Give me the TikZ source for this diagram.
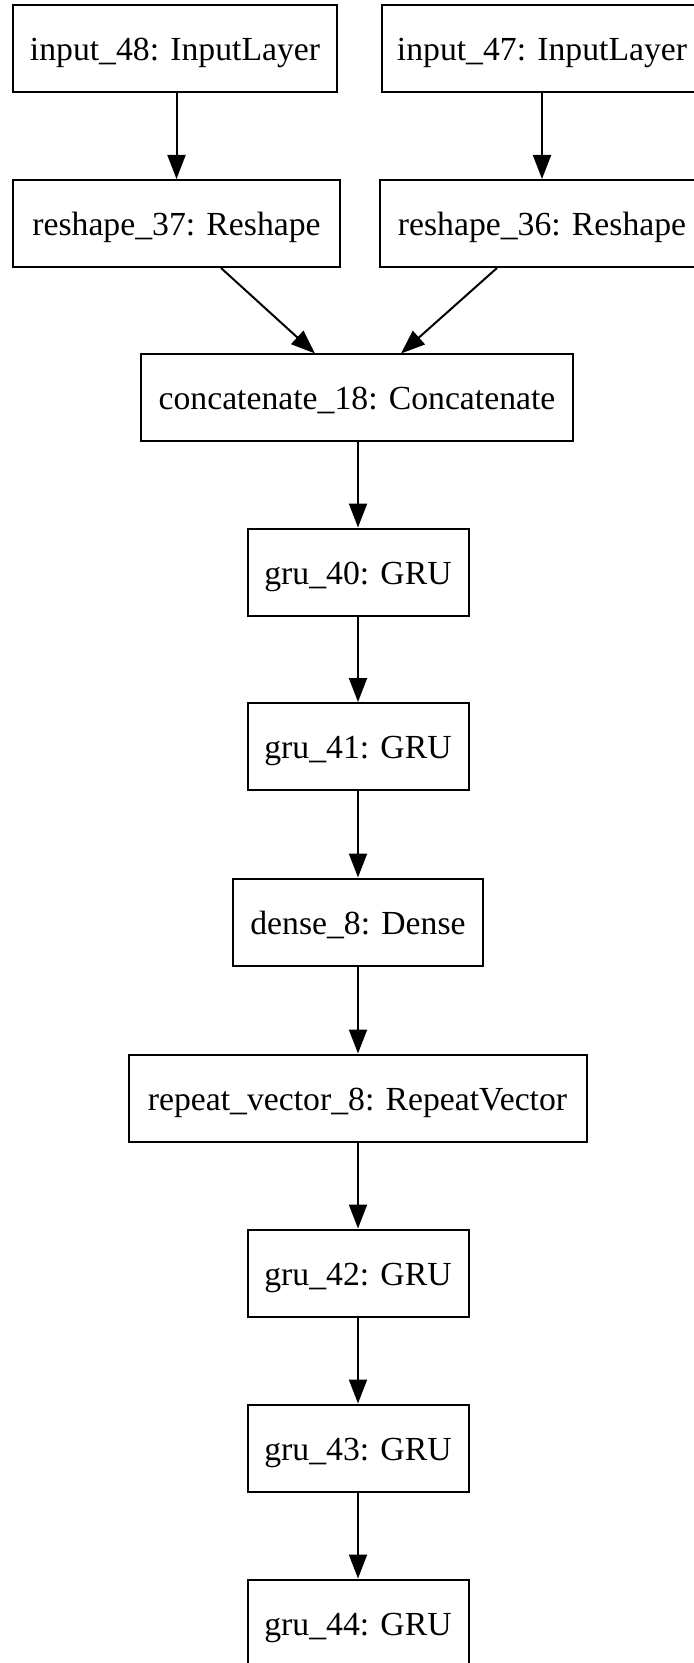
\documentclass[tikz,border=0pt]{standalone}
\usepackage{fontspec}
\setmainfont{Liberation Serif}
\usetikzlibrary{arrows.meta,calc}

\begin{document}
\begin{tikzpicture}[
  x=0.5pt, y=-0.5pt,
  layer/.style={draw=black, line width=1pt, rectangle, inner sep=0pt,
    minimum height=43.5pt, text height=12pt, text depth=0pt,
    font=\fontsize{16.85}{20}\selectfont},
  flow/.style={draw=black, line width=1pt,
    -{Triangle[length=12pt, width=9pt]}}
]
\useasboundingbox (0,0) rectangle (694,1663);
\clip (0,0) rectangle (694,1663);
\fill[white] (0,0) rectangle (694,1663);

% input branches
\node[layer, minimum width=162pt] (in48) at (175,49) {input\_48: InputLayer};
\node[layer, minimum width=160pt] (in47) at (542,49) {input\_47: InputLayer};
\node[layer, minimum width=163.5pt] (re37) at (176.5,223.5) {reshape\_37: Reshape};
\node[layer, minimum width=162pt] (re36) at (542,223.5) {reshape\_36: Reshape};

% main stack
\node[layer, minimum width=216pt] (cat) at (357,398) {concatenate\_18: Concatenate};
\node[layer, minimum width=110.5pt] (g40) at (358,572) {gru\_40: GRU};
\node[layer, minimum width=110.5pt] (g41) at (358,746.5) {gru\_41: GRU};
\node[layer, minimum width=125pt] (d8) at (358,922) {dense\_8: Dense};
\node[layer, minimum width=229pt] (rv8) at (357.5,1098) {repeat\_vector\_8: RepeatVector};
\node[layer, minimum width=110.5pt] (g42) at (358,1273) {gru\_42: GRU};
\node[layer, minimum width=110.5pt] (g43) at (358,1448) {gru\_43: GRU};
\node[layer, minimum width=110.5pt] (g44) at (358,1623) {gru\_44: GRU};

% connectors
\draw[flow] (in48.south -| re37.north) -- (re37.north);
\draw[flow] (in47.south -| re36.north) -- (re36.north);
\draw[flow] ($(re37.south)+(44.5,0)$) -- ($(cat.north)+(-42,0)$);
\draw[flow] ($(re36.south)+(-45,0)$) -- ($(cat.north)+(44,0)$);
\draw[flow] (cat.south -| g40.north) -- (g40.north);
\draw[flow] (g40) -- (g41);
\draw[flow] (g41) -- (d8);
\draw[flow] (d8.south) -- (d8.south |- rv8.north);
\draw[flow] (rv8.south -| g42.north) -- (g42.north);
\draw[flow] (g42) -- (g43);
\draw[flow] (g43) -- (g44);
\end{tikzpicture}
\end{document}
